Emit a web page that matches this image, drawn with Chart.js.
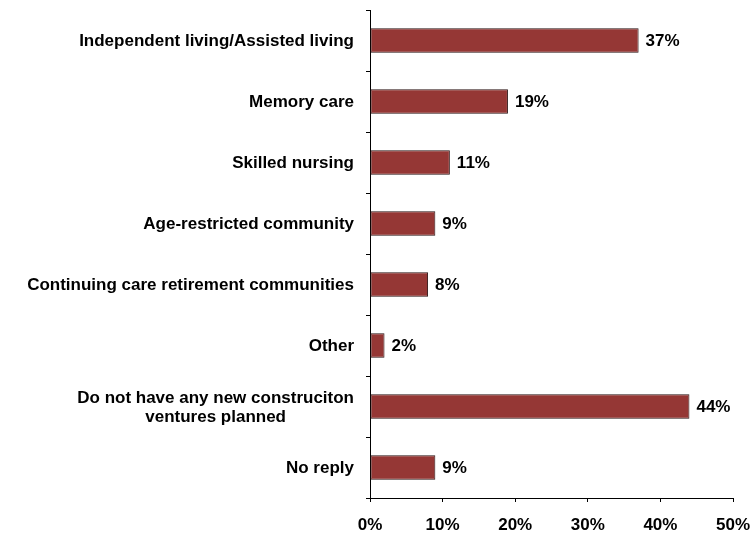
<!DOCTYPE html>
<html>
<head>
<meta charset="utf-8">
<script src="https://cdn.jsdelivr.net/npm/chart.js@4/dist/chart.umd.min.js"></script>
<style>
    html, body { margin: 0; padding: 0; background: #fff; }
    #wrap { width: 754px; height: 537px; }
</style>
</head>
<body>
<div id="wrap"><canvas id="barChart" width="754" height="537"></canvas></div>
<script>
// Categories and shares (%)
var categories = [
    "Independent living/Assisted living",
    "Memory care",
    "Skilled nursing",
    "Age-restricted community",
    "Continuing care retirement communities",
    "Other",
    ["Do not have any new construciton", "ventures planned"],
    "No reply"
];
var shares = [37, 19, 11, 9, 8, 2, 44, 9];
var xTicks = [0, 10, 20, 30, 40, 50];

var fontFamily = "'Liberation Sans', Arial, sans-serif";
var labelFont = "bold 17px " + fontFamily;

// Category names left of the axis; wrapped lines are centred on each other
var categoryLabels = {
    id: 'categoryLabels',
    afterDraw: function (chart) {
        var ctx = chart.ctx;
        var yScale = chart.scales.y;
        var right = yScale.right - 16;
        ctx.save();
        ctx.font = labelFont;
        ctx.fillStyle = '#000';
        ctx.textBaseline = 'middle';
        ctx.textAlign = 'center';
        categories.forEach(function (label, i) {
            var y = yScale.getPixelForValue(i) + 1;
            var lines = Array.isArray(label) ? label : [label];
            var widest = 0;
            lines.forEach(function (l) { widest = Math.max(widest, ctx.measureText(l).width); });
            var cx = right - widest / 2;
            var lineH = 19;
            var top = y - (lines.length - 1) * lineH / 2;
            lines.forEach(function (l, j) {
                ctx.fillText(l, cx, top + j * lineH);
            });
        });
        ctx.restore();
    }
};

// Percentage labels at the end of each bar
var valueLabels = {
    id: 'valueLabels',
    afterDatasetsDraw: function (chart) {
        var ctx = chart.ctx;
        var meta = chart.getDatasetMeta(0);
        ctx.save();
        ctx.font = labelFont;
        ctx.fillStyle = '#000';
        ctx.textAlign = 'left';
        ctx.textBaseline = 'middle';
        meta.data.forEach(function (bar, i) {
            ctx.fillText(shares[i] + '%', bar.x + 7, bar.y + 1);
        });
        ctx.restore();
    }
};

var ctx = document.getElementById('barChart').getContext('2d');
var chart = new Chart(ctx, {
    type: 'bar',
    data: {
        labels: categories,
        datasets: [{
            data: shares,
            backgroundColor: '#953735',
            borderColor: '#2a1212',
            borderWidth: 1,
            borderSkipped: false,
            categoryPercentage: 1,
            barPercentage: 0.4
        }]
    },
    options: {
        indexAxis: 'y',
        responsive: false,
        animation: false,
        layout: { padding: { top: 10, right: 21, bottom: 0, left: 0 } },
        plugins: {
            legend: { display: false },
            tooltip: { enabled: false }
        },
        scales: {
            x: {
                min: 0,
                max: 50,
                afterBuildTicks: function (scale) {
                    scale.ticks = xTicks.map(function (v) { return { value: v }; });
                },
                afterFit: function (scale) {
                    scale.height = 39;
                    // let the last tick label run into the page margin
                    scale.paddingRight = 0;
                    scale.paddingLeft = 0;
                },
                border: { color: '#000', width: 1 },
                grid: { drawOnChartArea: false, drawTicks: true, tickLength: 4, color: '#000' },
                ticks: {
                    color: '#000',
                    padding: 13,
                    maxRotation: 0,
                    font: { family: fontFamily, size: 17, weight: 'bold' },
                    callback: function (v) { return v + '%'; }
                }
            },
            y: {
                afterFit: function (scale) { scale.width = 370; },
                border: { color: '#000', width: 1 },
                grid: { offset: true, drawOnChartArea: false, drawTicks: true, tickLength: 4, color: '#000' },
                ticks: { display: false }
            }
        }
    },
    plugins: [categoryLabels, valueLabels]
});
</script>
</body>
</html>
